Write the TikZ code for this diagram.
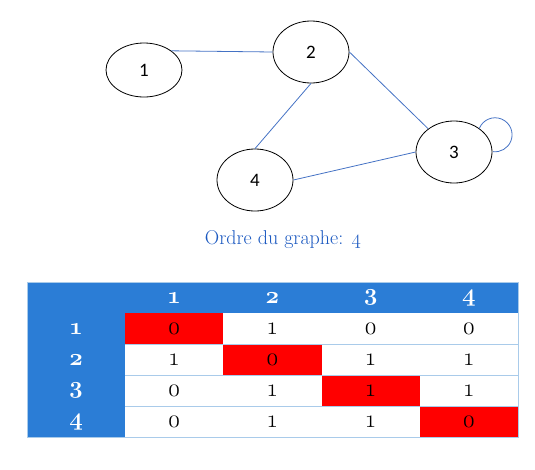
\documentclass[tikz,border=0pt]{standalone}
\usepackage{fontspec}
\setmainfont[Numbers=OldStyle]{Latin Modern Roman}
\newfontfamily\sommetfont{Carlito}
\usetikzlibrary{shapes,positioning}
\definecolor{arete}{HTML}{4472C4}
\definecolor{titre}{HTML}{1A58C0}
\definecolor{entete}{HTML}{2B7DD6}
\definecolor{bord}{HTML}{A9CBEA}
\definecolor{diag}{HTML}{FF0000}
\tikzset{
  sommet/.style={draw, ellipse, line width=0.8pt, minimum width=76pt, minimum height=62pt, inner sep=0pt, font=\sommetfont\fontsize{19}{21}\selectfont},
  arete/.style={draw=arete, line width=0.8pt},
  cellule/.style={rectangle, minimum width=98.25pt, minimum height=31pt, inner sep=0pt, font=\fontsize{25}{26}\selectfont},
  tete/.style={rectangle, minimum width=98.25pt, minimum height=31pt, inner sep=0pt, text=white, font=\bfseries\fontsize{24}{25}\selectfont}
}

\begin{document}
\begin{tikzpicture}[x=1pt,y=-1pt]
\useasboundingbox (0,0) rectangle (535,469);
% le graphe
\node[sommet, minimum height=54pt] (n1) at (144,70) {1};
\node[sommet] (n2) at (311,52) {2};
\node[sommet] (n3) at (454,152) {3};
\node[sommet] (n4) at (255,180) {4};
\draw[arete] (n1.35) -- (n2.180);
\draw[arete] (n2.0) -- (n3.138);
\draw[arete] (n2.south) -- (n4.north);
\draw[arete] (n4.east) -- (n3.west);
\draw[arete] (n3.43) arc[start angle=-158, end angle=97, radius=17];
\node[text=titre, font=\fontsize{20}{22}\selectfont] (ordre) at (283,240) {Ordre du graphe: 4};
% la matrice
\fill[entete] (27,282) rectangle (125,437);
\fill[entete] (125,282) rectangle (518,313);
\foreach \j in {1,...,4}
  \node[tete] (h\j) at (125+\j*98.25-49.125,297.5) {\j};
\foreach \i in {1,...,4}
  \node[tete] (r\i) at (76,313+\i*31-15.5) {\i};
\foreach \ligne [count=\i] in {{0,1,0,0},{1,0,1,1},{0,1,1,1},{0,1,1,0}}
  \foreach \v [count=\j] in \ligne {
    \ifnum\i=\j \def\fond{diag}\else\def\fond{white}\fi
    \node[cellule, fill=\fond] (c\i\j) at (125+\j*98.25-49.125,313+\i*31-15.5) {\v};
  }
\foreach \i in {1,...,3}
  \draw[bord] (c\i1.south west) -- (c\i4.south east);
\draw[bord] (27,282) rectangle (518,437);
\end{tikzpicture}
\end{document}
